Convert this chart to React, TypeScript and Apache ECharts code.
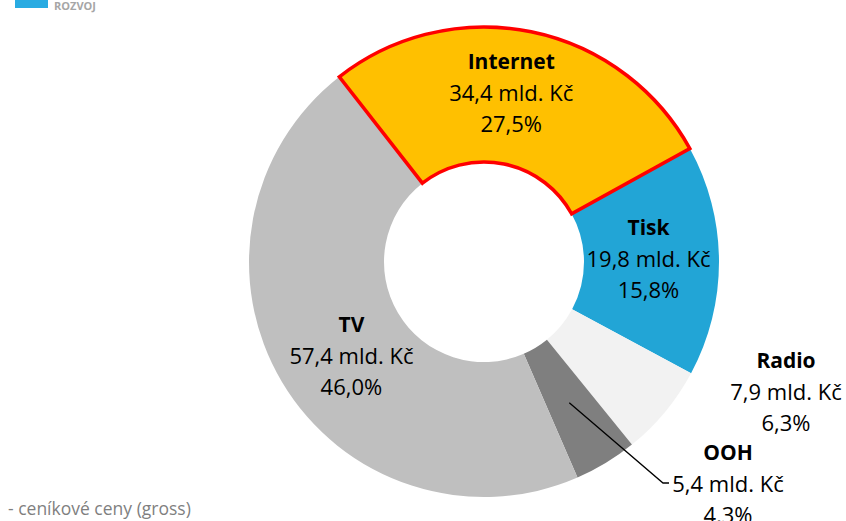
import React, { useEffect, useRef } from "react";
import * as echarts from "echarts";

// Slice order is clockwise starting from Tisk so that Internet (highlighted) is drawn last
const categories = ["Tisk", "Radio", "OOH", "TV", "Internet"];
const valuesBn = [19.8, 7.9, 5.4, 57.4, 34.4];
const shares = ["15,8%", "6,3%", "4,3%", "46,0%", "27,5%"];
const colors = ["#22A5D6", "#F2F2F2", "#7F7F7F", "#BFBFBF", "#FFC000"];
const footnote = "- ceníkové ceny (gross)";
const logoText = "ROZVOJ";

const FONT = "'Open Sans', 'Noto Sans', sans-serif";

export default function App() {
  const ref = useRef<HTMLDivElement>(null);
  useEffect(() => {
    document.body.style.margin = "0";
    if (!ref.current) return;
    const chart = echarts.init(ref.current, null, { renderer: "svg" });
    const fmt = (v: number) => v.toFixed(1).replace(".", ",") + " mld. Kč";
    const total = valuesBn.reduce((a, b) => a + b, 0);
    const internetAngle = (valuesBn[4] / total) * 360;
    const startAngle = 128 - internetAngle;
    const cx = 484;
    const cy = 262;
    const rIn = 100;
    const rOut = 235;

    // leader-line anchor: middle of the OOH slice
    const oohIdx = categories.indexOf("OOH");
    const before = valuesBn.slice(0, oohIdx).reduce((a, b) => a + b, 0);
    const midDeg = startAngle - ((before + valuesBn[oohIdx] / 2) / total) * 360;
    const midRad = (midDeg * Math.PI) / 180;
    const rMid = (rIn + rOut) / 2 - 3;
    const ax = cx + rMid * Math.cos(midRad);
    const ay = cy - rMid * Math.sin(midRad);

    const data = categories.map((name, i) => {
      const item: any = {
        name,
        value: valuesBn[i],
        itemStyle: { color: colors[i], borderWidth: 0 },
      };
      if (name === "Internet") {
        item.itemStyle = { color: colors[i], borderColor: "#FF0000", borderWidth: 3.5, borderJoin: "miter" };
      }
      if (name === "Radio" || name === "OOH") {
        item.label = { position: "outside" };
        item.labelLine = { show: false };
      }
      return item;
    });
    chart.setOption({
      animation: false,
      backgroundColor: "#FFFFFF",
      textStyle: { fontFamily: FONT },
      graphic: [
        { type: "rect", shape: { x: 15, y: -4, width: 33, height: 12 }, style: { fill: "#29ABE2" } },
        {
          type: "text",
          x: 54,
          y: 5,
          style: {
            text: logoText,
            fill: "#A6A6A6",
            font: `bold 11px ${FONT}`,
            verticalAlign: "middle",
          },
        },
        {
          type: "text",
          x: 8,
          y: 508,
          style: {
            text: footnote,
            fill: "#7F7F7F",
            font: `17.5px ${FONT}`,
            verticalAlign: "middle",
          },
        },
        {
          type: "polyline",
          z: 100,
          shape: {
            points: [
              [ax, ay],
              [663, 483],
              [669, 483],
            ],
          },
          style: { stroke: "#000", lineWidth: 1.3, fill: null },
        },
      ],
      series: [
        {
          type: "pie",
          center: [cx, cy],
          radius: [rIn, rOut],
          startAngle,
          clockwise: true,
          avoidLabelOverlap: false,
          data,
          label: {
            show: true,
            position: "inside",
            formatter: (p: any) =>
              `{n|${p.name}}\n{v|${fmt(p.value)}}\n{v|${shares[p.dataIndex]}}`,
            rich: {
              n: { fontFamily: FONT, fontSize: 21, fontWeight: "bold", color: "#000", lineHeight: 31 },
              v: { fontFamily: FONT, fontSize: 22, color: "#000", lineHeight: 31 },
            },
            align: "center",
          },
          labelLayout: (p: any) => {
            const name = categories[p.dataIndex];
            if (name === "Radio") {
              return { x: 786, y: 391, align: "center", verticalAlign: "middle" };
            }
            if (name === "OOH") {
              return { x: 728, y: 483, align: "center", verticalAlign: "middle" };
            }
            if (name === "TV") return { dx: 14, dy: 6 };
            if (name === "Internet") return { dx: -7, dy: -3 };
            if (name === "Tisk") return { dx: -6, dy: -3 };
            return {};
          },
          emphasis: { disabled: true },
        },
      ],
    });
    return () => chart.dispose();
  }, []);
  return <div ref={ref} style={{ width: 846, height: 521 }} />;
}
